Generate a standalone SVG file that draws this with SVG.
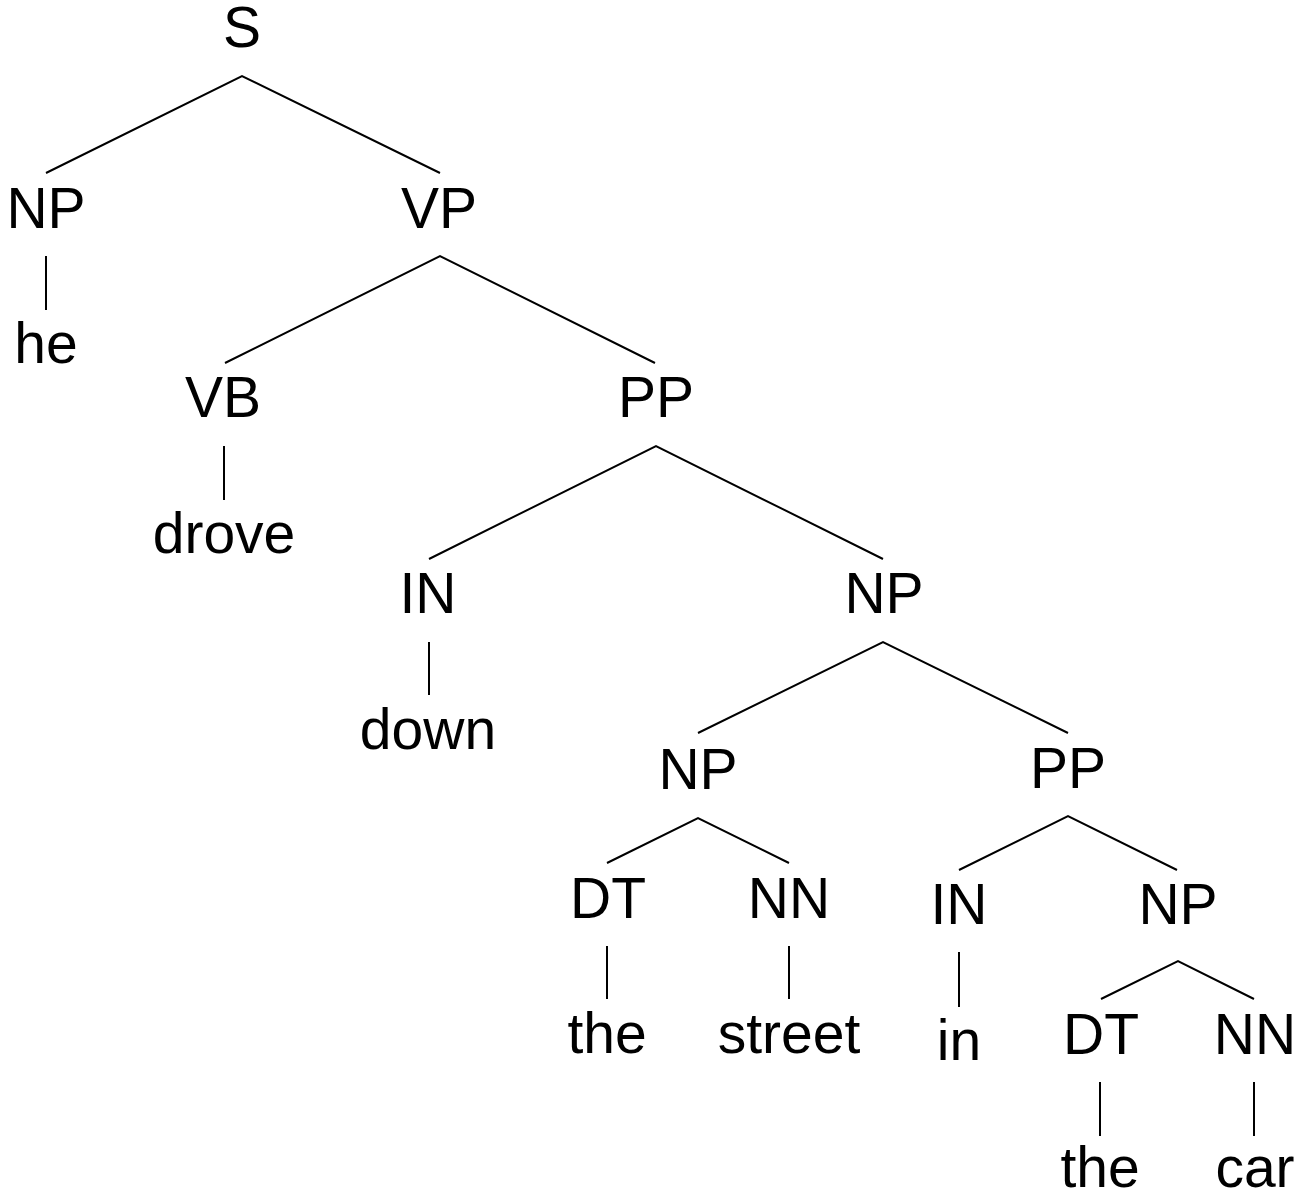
<svg xmlns="http://www.w3.org/2000/svg" width="1299" height="1194" viewBox="0 0 1299 1194">
<style>
text{font-family:"Liberation Sans",Arial,sans-serif;font-size:57px;fill:#000;text-anchor:middle}
.e{stroke:#000;stroke-width:2;fill:none}
</style>
<rect width="1299" height="1194" fill="#fff"/>
<g id="connectors" class="e">
<polyline points="46,173 242,76 440,173"/>
<line x1="46" y1="256" x2="46" y2="310"/>
<polyline points="225,363 440,256 655,363"/>
<line x1="224" y1="446" x2="224" y2="500"/>
<polyline points="429,559 656,446 883,559"/>
<line x1="429" y1="642" x2="429" y2="695"/>
<polyline points="698,733 883,642 1068,733"/>
<polyline points="607,863 698,818 789,863"/>
<line x1="607" y1="946" x2="607" y2="999"/>
<line x1="789" y1="946" x2="789" y2="999"/>
<polyline points="959,870 1068,816 1177,870"/>
<line x1="959" y1="952" x2="959" y2="1007"/>
<polyline points="1101,999 1178,961 1254,999"/>
<line x1="1100" y1="1082" x2="1100" y2="1136"/>
<line x1="1254" y1="1082" x2="1254" y2="1136"/>
</g>
<g id="n-S"><text x="242" y="47">S</text></g>
<g id="n-NP1"><text x="46" y="228">NP</text></g>
<g id="n-he"><text x="46" y="363">he</text></g>
<g id="n-VP"><text x="439" y="228">VP</text></g>
<g id="n-VB"><text x="223" y="417">VB</text></g>
<g id="n-drove"><text x="224" y="553">drove</text></g>
<g id="n-PP1"><text x="656" y="417">PP</text></g>
<g id="n-IN1"><text x="428" y="613">IN</text></g>
<g id="n-down"><text x="428" y="749">down</text></g>
<g id="n-NP2"><text x="884" y="613">NP</text></g>
<g id="n-NP3"><text x="698" y="789">NP</text></g>
<g id="n-DT1"><text x="608" y="918">DT</text></g>
<g id="n-the1"><text x="607" y="1053">the</text></g>
<g id="n-NN1"><text x="789" y="918">NN</text></g>
<g id="n-street"><text x="789" y="1053">street</text></g>
<g id="n-PP2"><text x="1068" y="788">PP</text></g>
<g id="n-IN2"><text x="959" y="924">IN</text></g>
<g id="n-in"><text x="959" y="1060">in</text></g>
<g id="n-NP4"><text x="1178" y="924">NP</text></g>
<g id="n-DT2"><text x="1101" y="1054">DT</text></g>
<g id="n-the2"><text x="1100" y="1187">the</text></g>
<g id="n-NN2"><text x="1255" y="1054">NN</text></g>
<g id="n-car"><text x="1255" y="1187">car</text></g>
</svg>
